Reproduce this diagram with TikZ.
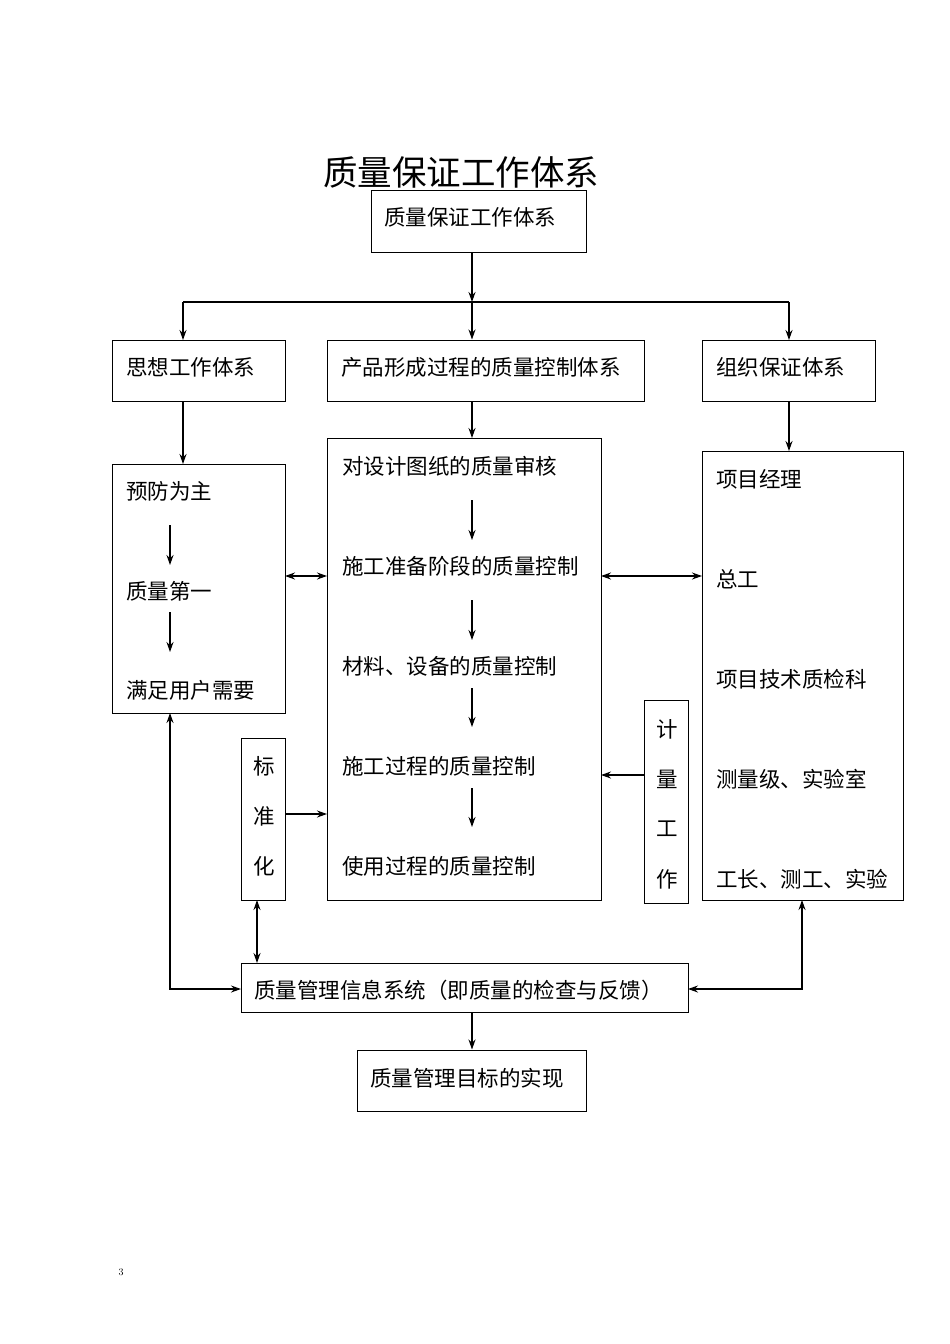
\documentclass[tikz,border=0pt]{standalone}
\usepackage{fontspec}
\newfontfamily\cjk{Noto Sans CJK SC}
\usetikzlibrary{arrows.meta}
\begin{document}
\begin{tikzpicture}[x=1pt,y=-1pt,
  box/.style={draw,line width=1pt,inner sep=0pt},
  txt/.style={font=\cjk\fontsize{21.5}{24}\selectfont,anchor=west,inner sep=0pt},
  ch/.style={font=\cjk\fontsize{21.5}{24}\selectfont,inner sep=0pt},
  ar/.style={line width=1.2pt,-{Stealth[length=10pt,width=7pt]}},
  dar/.style={line width=1.2pt,{Stealth[length=10pt,width=7pt]}-{Stealth[length=10pt,width=7pt]}}]
\useasboundingbox[fill=white] (0,0) rectangle (950,1344);
\node[font=\cjk\fontsize{34.5}{38}\selectfont] (title) at (461,172) {质量保证工作体系};
\node[box,minimum width=215pt,minimum height=62pt] (top) at (478.5,221) {};
\node[txt] at (384,217) {质量保证工作体系};
\node[box,minimum width=173pt,minimum height=61pt] (sx) at (198.5,370.5) {};
\node[txt] at (126,367) {思想工作体系};
\node[box,minimum width=317pt,minimum height=61pt] (cp) at (485.5,370.5) {};
\node[txt] at (341,367) {产品形成过程的质量控制体系};
\node[box,minimum width=173pt,minimum height=61pt] (zz) at (788.5,370.5) {};
\node[txt] at (716,367) {组织保证体系};
% big boxes
\node[box,minimum width=173pt,minimum height=249pt] (L) at (198.5,588.5) {};
\node[box,minimum width=274pt,minimum height=462pt] (M) at (464,669) {};
\node[box,minimum width=201pt,minimum height=449pt] (R) at (802.5,675.5) {};
\node[box,minimum width=44pt,minimum height=162pt] (B) at (263,819) {};
\node[box,minimum width=44pt,minimum height=203pt] (J) at (666,801.5) {};
\node[box,minimum width=447pt,minimum height=49pt] (I) at (464.5,987.5) {};
\node[txt] at (254,990) {质量管理信息系统（即质量的检查与反馈）};
\node[box,minimum width=229pt,minimum height=61pt] (F) at (471.5,1080.5) {};
\node[txt] at (370,1078) {质量管理目标的实现};
% left texts
\node[txt] (l1) at (126,491) {预防为主};
\node[txt] (l2) at (126,591) {质量第一};
\node[txt] (l3) at (126,690) {满足用户需要};
\draw[ar] (170,525) -- (170,565);
\draw[ar] (170,612) -- (170,652);
% middle texts
\node[txt] (m1) at (342,466) {对设计图纸的质量审核};
\node[txt] (m2) at (342,566) {施工准备阶段的质量控制};
\node[txt] (m3) at (342,666) {材料、设备的质量控制};
\node[txt] (m4) at (342,766) {施工过程的质量控制};
\node[txt] (m5) at (342,866) {使用过程的质量控制};
\draw[ar] (472,500) -- (472,540);
\draw[ar] (472,600) -- (472,640);
\draw[ar] (472,688) -- (472,727);
\draw[ar] (472,788) -- (472,827);
% right texts
\node[txt] (r1) at (716,479) {项目经理};
\node[txt] (r2) at (716,579) {总工};
\node[txt] (r3) at (716,679) {项目技术质检科};
\node[txt] (r4) at (716,779) {测量级、实验室};
\node[txt] (r5) at (716,879) {工长、测工、实验};
% vertical texts
\node[ch] at (264,766) {标};
\node[ch] at (264,816) {准};
\node[ch] at (264,866) {化};
\node[ch] at (667,729) {计};
\node[ch] at (667,779) {量};
\node[ch] at (667,829) {工};
\node[ch] at (667,879) {作};
\node[font=\fontsize{10}{12}\selectfont] (pg) at (121,1272) {3};
% connectors
\coordinate (bus) at (472,302);
\draw[ar] (bus |- top.south) -- (bus);
\draw[line width=1.2pt] (183,302) -- (789,302);
\draw[ar] (183,302) -- (183,340);
\draw[ar] (bus) -- (bus |- cp.north);
\draw[ar] (789,302) -- (789,340);
\draw[ar] (183,401) -- (183,464);
\draw[ar] (bus |- cp.south) -- (472,438);
\draw[ar] (789,401) -- (789,451);
\draw[dar] (285,576) -- (327,576);
\draw[dar] (601,576) -- (702,576);
\draw[ar] (285,814) -- (327,814);
\draw[ar] (644,775) -- (601,775);
\draw[dar] (257,900) -- (257,963);
\draw[dar] (170,713) -- (170,989) -- (241,989);
\draw[dar] (688,989) -- (802,989) -- (802,900);
\draw[ar] (bus |- I.south) -- (bus |- F.north);
\end{tikzpicture}
\end{document}
